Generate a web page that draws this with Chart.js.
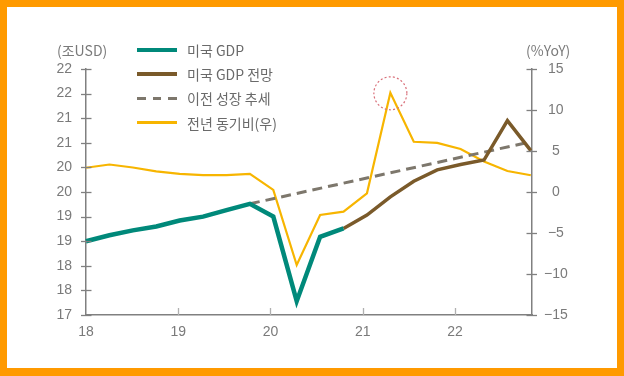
<!DOCTYPE html>
<html><head><meta charset="utf-8">
<script src="https://cdn.jsdelivr.net/npm/chart.js@4/dist/chart.umd.min.js"></script>
<style>
html,body{margin:0;padding:0;background:#fff;width:624px;height:376px;overflow:hidden;}
#wrap{position:absolute;left:0;top:0;width:624px;height:376px;}
#frame{position:absolute;left:0;top:0;width:624px;height:376px;box-sizing:border-box;border-style:solid;border-color:#FF9A00;border-width:7px 7px 8px 7px;pointer-events:none;}
.t{position:absolute;font-family:'Liberation Sans Narrow','Noto Sans CJK KR',sans-serif;font-size:14px;line-height:16px;color:#7a7a7a;white-space:nowrap;}
.lg{position:absolute;font-family:'Liberation Sans Narrow','Noto Sans CJK KR',sans-serif;font-size:14px;line-height:16px;color:#6a6a6a;white-space:nowrap;}
.sw{position:absolute;}
</style>
</head><body>
<div id="wrap"><canvas id="c" width="624" height="376"></canvas></div>
<div class="t" style="left:57px;top:42px;">(조USD)</div>
<div class="t" style="left:526px;top:42px;">(%YoY)</div>
<div id="legend"></div>
<div id="frame"></div>
<script>
// ---- data ----
const quarters = ['18Q1','18Q2','18Q3','18Q4','19Q1','19Q2','19Q3','19Q4','20Q1','20Q2','20Q3','20Q4','21Q1','21Q2','21Q3','21Q4','22Q1','22Q2','22Q3','22Q4'];
const gdp         = [18.50,18.62,18.72,18.80,18.92,19.00,19.13,19.26,19.00,17.28,18.59,18.76,null,null,null,null,null,null,null,null];
const gdpForecast = [null,null,null,null,null,null,null,null,null,null,null,18.76,19.03,19.40,19.72,19.95,20.06,20.15,20.95,20.34];
const prevTrend   = [null,null,null,null,null,null,null,19.26,null,null,null,null,null,null,null,null,null,null,null,20.52];
const yoy         = [2.96,3.35,2.99,2.52,2.20,2.07,2.07,2.20,0.25,-8.90,-2.80,-2.40,-0.16,12.10,6.13,5.98,5.24,3.72,2.56,2.04];
const yearLabels  = ['18','19','20','21','22'];
const yearTickAt  = [0, 3.94, 7.88, 11.82, 15.76]; // year boundaries in quarter-index units
const leftTickLabels  = ['17','18','18','19','19','20','20','21','21','22','22'];
const rightTickLabels = ['−15','−10','−5','0','5','10','15'];
const seriesNames = ['미국 GDP','미국 GDP 전망','이전 성장 추세','전년 동기비(우)'];
const highlightIndex = 13;

const pts = arr => arr.map((v,i)=> v===null ? null : {x:i, y:v}).filter(p=>p!==null);

const colors = {gdp:'#00897A', fc:'#7A5A2A', trend:'#7d776c', yoy:'#F7B500'};

// legend (HTML)
const lg = document.getElementById('legend');
const rows = [
  {c:colors.gdp, h:4, dash:false},
  {c:colors.fc, h:3.5, dash:false},
  {c:colors.trend, h:3, dash:true},
  {c:colors.yoy, h:2.5, dash:false}
];
const rowY = [50, 74, 98, 122.5];
rows.forEach((r,i)=>{
  if(r.dash){
    [0,15.5,31].forEach(off=>{
      const d=document.createElement('div'); d.className='sw';
      d.style.cssText=`left:${137+off}px;top:${rowY[i]-r.h/2}px;width:8.5px;height:${r.h}px;background:${r.c}`;
      lg.appendChild(d);
    });
  } else {
    const d=document.createElement('div'); d.className='sw';
    d.style.cssText=`left:137px;top:${rowY[i]-r.h/2}px;width:39.5px;height:${r.h}px;background:${r.c}`;
    lg.appendChild(d);
  }
  const t=document.createElement('div'); t.className='lg';
  t.style.left='187px'; t.style.top=(rowY[i]-8)+'px'; t.textContent=seriesNames[i];
  lg.appendChild(t);
});

const FONT = "'Liberation Sans Narrow','Liberation Sans',sans-serif";

const deco = {
  id:'deco',
  afterDraw(chart){
    const {ctx, chartArea, scales} = chart;
    const x=scales.x, y=scales.y, y1=scales.y1;
    ctx.save();
    ctx.lineWidth=1.3;
    ctx.strokeStyle='#808080';
    const ln=(a,b,c,d)=>{ctx.beginPath();ctx.moveTo(a,b);ctx.lineTo(c,d);ctx.stroke();};
    y.ticks.forEach(t=>{const py=Math.round(y.getPixelForValue(t.value))+0.5; ln(chartArea.left-5,py,chartArea.left+5.5,py);});
    y1.ticks.forEach(t=>{const py=Math.round(y1.getPixelForValue(t.value))+0.5; ln(chartArea.right-5.5,py,chartArea.right+5,py);});
    ctx.strokeStyle='#b0b0b0';
    x.ticks.forEach((t,i)=>{ if(i===0) return; const px=Math.round(x.getPixelForValue(t.value))+0.5; ln(px,chartArea.bottom-7,px,chartArea.bottom);});
    // highlight circle
    const cx=x.getPixelForValue(highlightIndex), cy=y1.getPixelForValue(yoy[highlightIndex]);
    ctx.strokeStyle='#d9707a'; ctx.lineWidth=1.2; ctx.setLineDash([2,2.2]);
    ctx.beginPath(); ctx.arc(cx,cy+0.5,16.5,0,Math.PI*2); ctx.stroke();
    ctx.restore();
  }
};

new Chart(document.getElementById('c'), {
  type:'line',
  data:{
    datasets:[
      {label:seriesNames[0], data:pts(gdp), borderColor:colors.gdp, borderWidth:4.5, yAxisID:'y'},
      {label:seriesNames[1], data:pts(gdpForecast), borderColor:colors.fc, borderWidth:3.5, yAxisID:'y'},
      {label:seriesNames[2], data:pts(prevTrend), borderColor:colors.trend, borderWidth:3, borderDash:[10,6], yAxisID:'y'},
      {label:seriesNames[3], data:pts(yoy), borderColor:colors.yoy, borderWidth:2.2, yAxisID:'y1'}
    ]
  },
  options:{
    responsive:false, animation:false, devicePixelRatio:1,
    layout:{padding:{top:69,left:0,right:0,bottom:0}},
    elements:{point:{radius:0, hoverRadius:0}, line:{tension:0, borderJoinStyle:'miter', borderCapStyle:'butt', fill:false}},
    datasets:{line:{clip:false}},
    plugins:{legend:{display:false}, tooltip:{enabled:false}},
    scales:{
      x:{type:'linear', position:'bottom', min:0, max:19.05,
        grid:{display:false, drawTicks:false},
        border:{display:true, color:'#808080', width:1.5},
        afterBuildTicks:s=>{ s.ticks = yearTickAt.map(v=>({value:v})); },
        ticks:{autoSkip:false, maxRotation:0, padding:9, color:'#7a7a7a', font:{family:FONT,size:14},
          callback:(v,i)=>yearLabels[i]},
        afterFit:s=>{ s.height=61; }
      },
      y:{type:'linear', position:'left', min:17, max:22,
        grid:{display:false, drawTicks:false},
        border:{display:true, color:'#808080', width:1.5},
        ticks:{stepSize:0.5, padding:14, color:'#7a7a7a', font:{family:FONT,size:14},
          callback:(v,i)=>leftTickLabels[i]},
        afterFit:s=>{ s.width=86; }
      },
      y1:{type:'linear', position:'right', min:-15, max:15,
        grid:{display:false, drawTicks:false},
        border:{display:true, color:'#808080', width:1.5},
        ticks:{stepSize:5, padding:12, crossAlign:'center', color:'#7a7a7a', font:{family:FONT,size:14},
          callback:(v,i)=>rightTickLabels[i]},
        afterFit:s=>{ s.width=92; }
      }
    }
  },
  plugins:[deco]
});
</script>
</body></html>
